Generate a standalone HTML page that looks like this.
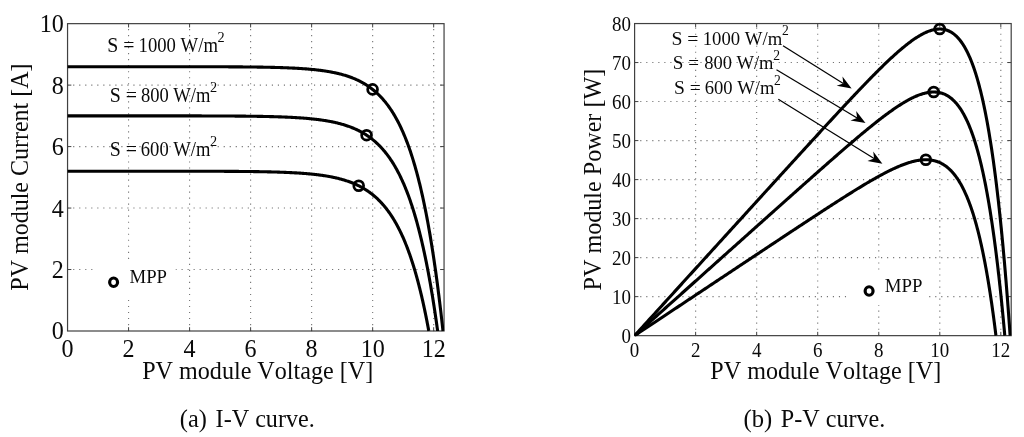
<!DOCTYPE html>
<html lang="en"><head><meta charset="utf-8"><title>PV module I-V and P-V curves</title>
<style>html,body{margin:0;padding:0;background:#fff;overflow:hidden}svg{display:block;will-change:transform}text{font-family:"Liberation Serif","Times New Roman",Times,serif;fill:#0a0a0a;font-kerning:none}</style></head><body>
<svg width="1024" height="437" viewBox="0 0 1024 437">
<rect width="1024" height="437" fill="#fff"/>
<defs><clipPath id="cl"><rect x="67.25" y="23.35" width="377.10" height="308.15"/></clipPath><clipPath id="cr"><rect x="634.30" y="23.25" width="377.20" height="312.90"/></clipPath></defs>
<path d="M128.57,331.15 V23.65 M189.59,331.15 V23.65 M250.61,331.15 V23.65 M311.63,331.15 V23.65 M372.66,331.15 V23.65 M433.68,331.15 V23.65 M67.15,269.53 H444.05 M67.15,208.06 H444.05 M67.15,146.59 H444.05 M67.15,85.12 H444.05" stroke="#747474" stroke-width="1.1" stroke-dasharray="1.15 4.87" fill="none"/>
<rect x="94.0" y="260.0" width="81.5" height="38.0" fill="#fff"/>
<path d="M128.57,331.00 v-3.8 M128.57,23.65 v3.8 M189.59,331.00 v-3.8 M189.59,23.65 v3.8 M250.61,331.00 v-3.8 M250.61,23.65 v3.8 M311.63,331.00 v-3.8 M311.63,23.65 v3.8 M372.66,331.00 v-3.8 M372.66,23.65 v3.8 M433.68,331.00 v-3.8 M433.68,23.65 v3.8 M67.55,269.53 h3.8 M444.05,269.53 h-3.8 M67.55,208.06 h3.8 M444.05,208.06 h-3.8 M67.55,146.59 h3.8 M444.05,146.59 h-3.8 M67.55,85.12 h3.8 M444.05,85.12 h-3.8" stroke="#404040" stroke-width="1" fill="none"/>
<rect x="67.55" y="23.65" width="376.50" height="307.35" fill="none" stroke="#404040" stroke-width="1.2"/>
<path clip-path="url(#cl)" d="M67.55,66.68 L68.75,66.68 L69.95,66.68 L71.15,66.68 L72.34,66.68 L73.54,66.68 L74.73,66.68 L75.92,66.68 L77.11,66.68 L78.30,66.68 L79.49,66.68 L80.68,66.68 L81.86,66.68 L83.05,66.68 L84.23,66.68 L85.41,66.68 L86.59,66.68 L87.76,66.68 L88.94,66.68 L90.11,66.68 L91.29,66.68 L92.46,66.68 L93.63,66.68 L94.80,66.68 L95.97,66.68 L97.13,66.68 L98.30,66.68 L99.46,66.68 L100.62,66.68 L101.78,66.68 L102.94,66.68 L104.09,66.68 L105.25,66.68 L106.40,66.68 L107.56,66.68 L108.71,66.68 L109.86,66.68 L111.00,66.68 L112.15,66.68 L113.30,66.68 L114.44,66.68 L115.58,66.68 L116.72,66.68 L117.86,66.68 L119.00,66.68 L120.13,66.68 L121.27,66.68 L122.40,66.68 L123.53,66.68 L124.66,66.68 L125.79,66.68 L126.92,66.68 L128.04,66.68 L129.17,66.68 L130.29,66.68 L131.41,66.68 L132.53,66.68 L133.65,66.68 L134.77,66.68 L135.88,66.68 L136.99,66.68 L138.11,66.68 L139.22,66.69 L140.33,66.69 L141.43,66.69 L142.54,66.69 L143.64,66.69 L144.75,66.69 L145.85,66.69 L146.95,66.69 L148.05,66.69 L149.14,66.69 L150.24,66.69 L151.33,66.69 L152.42,66.69 L153.51,66.69 L154.60,66.69 L155.69,66.69 L156.78,66.69 L157.86,66.69 L158.94,66.69 L160.02,66.69 L161.10,66.69 L162.18,66.69 L163.26,66.69 L164.33,66.69 L165.41,66.70 L166.48,66.70 L167.55,66.70 L168.62,66.70 L169.69,66.70 L170.75,66.70 L171.82,66.70 L172.88,66.70 L173.94,66.70 L175.00,66.70 L176.06,66.70 L177.11,66.70 L178.17,66.70 L179.22,66.71 L180.27,66.71 L181.32,66.71 L182.37,66.71 L183.42,66.71 L184.46,66.71 L185.51,66.71 L186.55,66.71 L187.59,66.71 L188.63,66.72 L189.67,66.72 L190.70,66.72 L191.74,66.72 L192.77,66.72 L193.80,66.72 L194.83,66.72 L195.86,66.73 L196.88,66.73 L197.91,66.73 L198.93,66.73 L199.95,66.73 L200.97,66.74 L201.99,66.74 L203.01,66.74 L204.02,66.74 L205.04,66.74 L206.05,66.75 L207.06,66.75 L208.07,66.75 L209.07,66.75 L210.08,66.76 L211.08,66.76 L212.08,66.76 L213.08,66.77 L214.08,66.77 L215.08,66.77 L216.08,66.78 L217.07,66.78 L218.06,66.78 L219.05,66.79 L220.04,66.79 L221.03,66.79 L222.01,66.80 L223.00,66.80 L223.98,66.81 L224.96,66.81 L225.94,66.82 L226.92,66.82 L227.89,66.82 L228.87,66.83 L229.84,66.83 L230.81,66.84 L231.78,66.85 L232.75,66.85 L233.71,66.86 L234.68,66.86 L235.64,66.87 L236.60,66.88 L237.56,66.88 L238.52,66.89 L239.47,66.90 L240.43,66.90 L241.38,66.91 L242.33,66.92 L243.28,66.93 L244.23,66.94 L245.17,66.95 L246.11,66.95 L247.06,66.96 L248.00,66.97 L248.94,66.98 L249.87,66.99 L250.81,67.00 L251.74,67.01 L252.67,67.03 L253.60,67.04 L254.53,67.05 L255.46,67.06 L256.39,67.07 L257.31,67.09 L258.23,67.10 L259.15,67.11 L260.07,67.13 L260.99,67.14 L261.90,67.16 L262.81,67.17 L263.73,67.19 L264.63,67.21 L265.54,67.22 L266.45,67.24 L267.35,67.26 L268.26,67.28 L269.16,67.29 L270.06,67.31 L270.95,67.33 L271.85,67.36 L272.74,67.38 L273.64,67.40 L274.53,67.42 L275.41,67.45 L276.30,67.47 L277.19,67.49 L278.07,67.52 L278.95,67.55 L279.83,67.57 L280.71,67.60 L281.59,67.63 L282.46,67.66 L283.33,67.69 L284.20,67.72 L285.07,67.75 L285.94,67.79 L286.81,67.82 L287.67,67.85 L288.53,67.89 L289.39,67.93 L290.25,67.96 L291.11,68.00 L291.96,68.04 L292.81,68.09 L293.67,68.13 L294.51,68.17 L295.36,68.22 L296.21,68.26 L297.05,68.31 L297.89,68.36 L298.73,68.41 L299.57,68.46 L300.41,68.51 L301.24,68.57 L302.08,68.62 L302.91,68.68 L303.74,68.74 L304.56,68.80 L305.39,68.86 L306.21,68.92 L307.03,68.99 L307.85,69.05 L308.67,69.12 L309.49,69.19 L310.30,69.27 L311.11,69.34 L311.93,69.42 L312.73,69.50 L313.54,69.58 L314.35,69.66 L315.15,69.74 L315.95,69.83 L316.75,69.92 L317.55,70.01 L318.34,70.10 L319.14,70.20 L319.93,70.30 L320.72,70.40 L321.50,70.50 L322.29,70.61 L323.07,70.72 L323.86,70.83 L324.64,70.94 L325.42,71.06 L326.19,71.18 L326.97,71.31 L327.74,71.43 L328.51,71.56 L329.28,71.69 L330.04,71.83 L330.81,71.97 L331.57,72.11 L332.33,72.26 L333.09,72.41 L333.85,72.56 L334.60,72.72 L335.36,72.88 L336.11,73.04 L336.86,73.21 L337.60,73.38 L338.35,73.56 L339.09,73.74 L339.83,73.93 L340.57,74.11 L341.31,74.31 L342.04,74.51 L342.78,74.71 L343.51,74.92 L344.24,75.13 L344.96,75.35 L345.69,75.57 L346.41,75.79 L347.13,76.03 L347.85,76.26 L348.57,76.51 L349.28,76.75 L350.00,77.01 L350.71,77.27 L351.42,77.53 L352.12,77.80 L352.83,78.08 L353.53,78.36 L354.23,78.65 L354.93,78.95 L355.63,79.25 L356.32,79.56 L357.01,79.87 L357.70,80.19 L358.39,80.52 L359.08,80.86 L359.76,81.20 L360.44,81.55 L361.12,81.90 L361.80,82.27 L362.48,82.64 L363.15,83.02 L363.82,83.40 L364.49,83.80 L365.16,84.20 L365.82,84.61 L366.48,85.03 L367.14,85.46 L367.80,85.90 L368.46,86.34 L369.11,86.79 L369.76,87.26 L370.41,87.73 L371.06,88.21 L371.71,88.70 L372.35,89.20 L372.99,89.71 L373.63,90.23 L374.27,90.75 L374.90,91.29 L375.53,91.84 L376.16,92.40 L376.79,92.97 L377.42,93.55 L378.04,94.14 L378.66,94.74 L379.28,95.35 L379.90,95.98 L380.51,96.61 L381.12,97.26 L381.73,97.91 L382.34,98.58 L382.95,99.26 L383.55,99.96 L384.15,100.66 L384.75,101.38 L385.34,102.10 L385.94,102.85 L386.53,103.60 L387.12,104.37 L387.71,105.15 L388.29,105.94 L388.87,106.74 L389.45,107.56 L390.03,108.39 L390.60,109.24 L391.18,110.10 L391.75,110.97 L392.32,111.85 L392.88,112.75 L393.45,113.67 L394.01,114.60 L394.56,115.54 L395.12,116.50 L395.67,117.47 L396.23,118.45 L396.77,119.45 L397.32,120.47 L397.86,121.50 L398.41,122.54 L398.95,123.60 L399.48,124.68 L400.02,125.77 L400.55,126.87 L401.08,127.99 L401.60,129.13 L402.13,130.28 L402.65,131.45 L403.17,132.63 L403.69,133.83 L404.20,135.05 L404.71,136.28 L405.22,137.52 L405.73,138.79 L406.23,140.06 L406.73,141.36 L407.23,142.67 L407.73,143.99 L408.22,145.34 L408.71,146.69 L409.20,148.07 L409.68,149.46 L410.17,150.86 L410.65,152.29 L411.13,153.72 L411.60,155.18 L412.07,156.65 L412.54,158.13 L413.01,159.63 L413.47,161.15 L413.94,162.68 L414.39,164.23 L414.85,165.79 L415.30,167.37 L415.75,168.97 L416.20,170.58 L416.65,172.20 L417.09,173.84 L417.53,175.49 L417.96,177.16 L418.40,178.85 L418.83,180.54 L419.26,182.26 L419.68,183.98 L420.10,185.72 L420.52,187.47 L420.94,189.24 L421.35,191.02 L421.76,192.81 L422.17,194.62 L422.58,196.44 L422.98,198.26 L423.38,200.11 L423.77,201.96 L424.16,203.82 L424.55,205.70 L424.94,207.58 L425.32,209.48 L425.70,211.39 L426.08,213.30 L426.46,215.23 L426.83,217.16 L427.19,219.10 L427.56,221.05 L427.92,223.01 L428.28,224.97 L428.63,226.94 L428.98,228.92 L429.33,230.90 L429.68,232.89 L430.02,234.88 L430.36,236.88 L430.69,238.88 L431.02,240.88 L431.35,242.88 L431.68,244.89 L432.00,246.90 L432.32,248.91 L432.63,250.91 L432.94,252.92 L433.25,254.93 L433.55,256.93 L433.85,258.93 L434.15,260.93 L434.44,262.92 L434.73,264.91 L435.01,266.89 L435.30,268.86 L435.57,270.83 L435.85,272.79 L436.12,274.73 L436.38,276.67 L436.65,278.60 L436.90,280.51 L437.16,282.42 L437.41,284.30 L437.65,286.18 L437.89,288.03 L438.13,289.87 L438.36,291.69 L438.59,293.49 L438.82,295.27 L439.04,297.03 L439.25,298.77 L439.46,300.48 L439.67,302.17 L439.87,303.83 L440.07,305.46 L440.26,307.06 L440.45,308.64 L440.63,310.17 L440.81,311.68 L440.98,313.15 L441.14,314.58 L441.30,315.98 L441.46,317.33 L441.61,318.64 L441.75,319.90 L441.89,321.12 L442.02,322.29 L442.15,323.40 L442.26,324.46 L442.38,325.47 L442.48,326.41 L442.58,327.29 L442.67,328.09 L442.75,328.83 L442.82,329.48 L442.88,330.04 L442.93,330.50 L442.96,330.83 L442.98,331.00" fill="none" stroke="#000" stroke-width="3.1" stroke-linejoin="round"/>
<path clip-path="url(#cl)" d="M67.55,115.85 L68.73,115.86 L69.92,115.86 L71.10,115.86 L72.28,115.86 L73.45,115.86 L74.63,115.86 L75.81,115.86 L76.98,115.86 L78.15,115.86 L79.32,115.86 L80.49,115.86 L81.66,115.86 L82.83,115.86 L83.99,115.86 L85.15,115.86 L86.32,115.86 L87.48,115.86 L88.64,115.86 L89.79,115.86 L90.95,115.86 L92.11,115.86 L93.26,115.86 L94.41,115.86 L95.56,115.86 L96.71,115.86 L97.86,115.86 L99.00,115.86 L100.15,115.86 L101.29,115.86 L102.43,115.86 L103.57,115.86 L104.71,115.86 L105.85,115.86 L106.99,115.86 L108.12,115.86 L109.25,115.86 L110.39,115.86 L111.52,115.86 L112.65,115.86 L113.77,115.86 L114.90,115.86 L116.02,115.86 L117.15,115.86 L118.27,115.86 L119.39,115.86 L120.51,115.86 L121.62,115.86 L122.74,115.86 L123.85,115.86 L124.96,115.86 L126.07,115.86 L127.18,115.86 L128.29,115.86 L129.40,115.86 L130.50,115.86 L131.61,115.86 L132.71,115.86 L133.81,115.86 L134.91,115.86 L136.01,115.86 L137.10,115.86 L138.20,115.86 L139.29,115.86 L140.38,115.86 L141.47,115.86 L142.56,115.86 L143.65,115.86 L144.73,115.86 L145.82,115.87 L146.90,115.87 L147.98,115.87 L149.06,115.87 L150.14,115.87 L151.22,115.87 L152.29,115.87 L153.36,115.87 L154.44,115.87 L155.51,115.87 L156.58,115.87 L157.64,115.87 L158.71,115.87 L159.77,115.87 L160.84,115.87 L161.90,115.87 L162.96,115.87 L164.02,115.87 L165.07,115.87 L166.13,115.88 L167.18,115.88 L168.23,115.88 L169.28,115.88 L170.33,115.88 L171.38,115.88 L172.43,115.88 L173.47,115.88 L174.51,115.88 L175.56,115.88 L176.59,115.88 L177.63,115.89 L178.67,115.89 L179.70,115.89 L180.74,115.89 L181.77,115.89 L182.80,115.89 L183.83,115.89 L184.86,115.89 L185.88,115.90 L186.91,115.90 L187.93,115.90 L188.95,115.90 L189.97,115.90 L190.99,115.90 L192.00,115.91 L193.02,115.91 L194.03,115.91 L195.04,115.91 L196.05,115.91 L197.06,115.92 L198.07,115.92 L199.07,115.92 L200.08,115.92 L201.08,115.92 L202.08,115.93 L203.08,115.93 L204.08,115.93 L205.07,115.93 L206.07,115.94 L207.06,115.94 L208.05,115.94 L209.04,115.95 L210.03,115.95 L211.01,115.95 L212.00,115.96 L212.98,115.96 L213.96,115.96 L214.94,115.97 L215.92,115.97 L216.90,115.97 L217.87,115.98 L218.85,115.98 L219.82,115.99 L220.79,115.99 L221.76,116.00 L222.72,116.00 L223.69,116.01 L224.65,116.01 L225.61,116.02 L226.57,116.02 L227.53,116.03 L228.49,116.03 L229.44,116.04 L230.40,116.04 L231.35,116.05 L232.30,116.06 L233.25,116.06 L234.20,116.07 L235.14,116.08 L236.08,116.08 L237.03,116.09 L237.97,116.10 L238.91,116.11 L239.84,116.12 L240.78,116.12 L241.71,116.13 L242.64,116.14 L243.58,116.15 L244.50,116.16 L245.43,116.17 L246.36,116.18 L247.28,116.19 L248.20,116.20 L249.12,116.21 L250.04,116.22 L250.96,116.24 L251.87,116.25 L252.79,116.26 L253.70,116.27 L254.61,116.29 L255.52,116.30 L256.43,116.31 L257.33,116.33 L258.23,116.34 L259.14,116.36 L260.04,116.37 L260.94,116.39 L261.83,116.41 L262.73,116.42 L263.62,116.44 L264.51,116.46 L265.40,116.48 L266.29,116.50 L267.18,116.52 L268.06,116.54 L268.94,116.56 L269.82,116.58 L270.70,116.60 L271.58,116.62 L272.46,116.65 L273.33,116.67 L274.20,116.69 L275.08,116.72 L275.94,116.75 L276.81,116.77 L277.68,116.80 L278.54,116.83 L279.40,116.86 L280.26,116.89 L281.12,116.92 L281.98,116.95 L282.83,116.98 L283.69,117.01 L284.54,117.05 L285.39,117.08 L286.24,117.12 L287.08,117.15 L287.93,117.19 L288.77,117.23 L289.61,117.27 L290.45,117.31 L291.29,117.35 L292.12,117.40 L292.96,117.44 L293.79,117.49 L294.62,117.53 L295.45,117.58 L296.27,117.63 L297.10,117.68 L297.92,117.73 L298.74,117.79 L299.56,117.84 L300.38,117.90 L301.19,117.95 L302.01,118.01 L302.82,118.07 L303.63,118.13 L304.44,118.20 L305.24,118.26 L306.05,118.33 L306.85,118.40 L307.65,118.47 L308.45,118.54 L309.25,118.61 L310.04,118.69 L310.84,118.77 L311.63,118.85 L312.42,118.93 L313.21,119.01 L313.99,119.10 L314.78,119.18 L315.56,119.27 L316.34,119.36 L317.12,119.46 L317.89,119.55 L318.67,119.65 L319.44,119.75 L320.21,119.86 L320.98,119.96 L321.75,120.07 L322.51,120.18 L323.28,120.30 L324.04,120.41 L324.80,120.53 L325.56,120.65 L326.31,120.78 L327.07,120.90 L327.82,121.04 L328.57,121.17 L329.32,121.31 L330.06,121.45 L330.81,121.59 L331.55,121.73 L332.29,121.88 L333.03,122.04 L333.76,122.19 L334.50,122.35 L335.23,122.52 L335.96,122.68 L336.69,122.86 L337.42,123.03 L338.14,123.21 L338.86,123.39 L339.58,123.58 L340.30,123.77 L341.02,123.96 L341.73,124.16 L342.45,124.37 L343.16,124.57 L343.87,124.79 L344.57,125.00 L345.28,125.22 L345.98,125.45 L346.68,125.68 L347.38,125.92 L348.08,126.16 L348.77,126.40 L349.46,126.65 L350.15,126.91 L350.84,127.17 L351.53,127.44 L352.21,127.71 L352.90,127.99 L353.58,128.27 L354.25,128.56 L354.93,128.85 L355.60,129.16 L356.28,129.46 L356.95,129.77 L357.62,130.09 L358.28,130.42 L358.94,130.75 L359.61,131.09 L360.27,131.43 L360.92,131.79 L361.58,132.14 L362.23,132.51 L362.88,132.88 L363.53,133.26 L364.18,133.65 L364.82,134.04 L365.47,134.44 L366.11,134.85 L366.75,135.26 L367.38,135.69 L368.02,136.12 L368.65,136.56 L369.28,137.01 L369.90,137.46 L370.53,137.92 L371.15,138.40 L371.77,138.88 L372.39,139.36 L373.01,139.86 L373.62,140.37 L374.24,140.88 L374.85,141.41 L375.45,141.94 L376.06,142.48 L376.66,143.03 L377.26,143.59 L377.86,144.16 L378.46,144.74 L379.05,145.33 L379.65,145.93 L380.24,146.53 L380.82,147.15 L381.41,147.78 L381.99,148.42 L382.57,149.06 L383.15,149.72 L383.73,150.39 L384.30,151.07 L384.87,151.76 L385.44,152.46 L386.01,153.17 L386.57,153.89 L387.14,154.63 L387.70,155.37 L388.25,156.13 L388.81,156.89 L389.36,157.67 L389.91,158.46 L390.46,159.26 L391.01,160.07 L391.55,160.89 L392.09,161.72 L392.63,162.57 L393.17,163.43 L393.70,164.30 L394.23,165.18 L394.76,166.07 L395.29,166.98 L395.81,167.90 L396.33,168.82 L396.85,169.77 L397.37,170.72 L397.88,171.69 L398.40,172.66 L398.91,173.65 L399.41,174.66 L399.92,175.67 L400.42,176.70 L400.92,177.74 L401.41,178.79 L401.91,179.85 L402.40,180.93 L402.89,182.02 L403.38,183.12 L403.86,184.23 L404.34,185.36 L404.82,186.50 L405.30,187.65 L405.77,188.81 L406.24,189.99 L406.71,191.17 L407.17,192.37 L407.64,193.58 L408.10,194.81 L408.55,196.04 L409.01,197.29 L409.46,198.55 L409.91,199.82 L410.36,201.10 L410.80,202.40 L411.24,203.70 L411.68,205.02 L412.12,206.35 L412.55,207.69 L412.98,209.04 L413.41,210.40 L413.83,211.77 L414.26,213.15 L414.67,214.55 L415.09,215.95 L415.50,217.36 L415.91,218.79 L416.32,220.22 L416.73,221.66 L417.13,223.12 L417.53,224.58 L417.92,226.05 L418.32,227.53 L418.71,229.01 L419.09,230.51 L419.48,232.01 L419.86,233.52 L420.24,235.04 L420.61,236.57 L420.98,238.10 L421.35,239.64 L421.72,241.18 L422.08,242.73 L422.44,244.29 L422.79,245.85 L423.15,247.42 L423.50,248.99 L423.84,250.56 L424.19,252.14 L424.53,253.73 L424.86,255.31 L425.20,256.90 L425.53,258.49 L425.85,260.08 L426.18,261.67 L426.50,263.26 L426.82,264.85 L427.13,266.45 L427.44,268.04 L427.74,269.63 L428.05,271.21 L428.35,272.80 L428.64,274.38 L428.93,275.96 L429.22,277.54 L429.51,279.11 L429.79,280.67 L430.07,282.23 L430.34,283.78 L430.61,285.33 L430.88,286.86 L431.14,288.39 L431.40,289.91 L431.65,291.42 L431.90,292.91 L432.15,294.40 L432.39,295.87 L432.63,297.33 L432.86,298.78 L433.09,300.21 L433.32,301.63 L433.54,303.03 L433.75,304.41 L433.97,305.77 L434.17,307.11 L434.38,308.44 L434.58,309.74 L434.77,311.02 L434.96,312.28 L435.14,313.51 L435.32,314.71 L435.50,315.89 L435.67,317.04 L435.83,318.16 L435.99,319.26 L436.14,320.31 L436.29,321.34 L436.43,322.33 L436.57,323.28 L436.70,324.19 L436.82,325.06 L436.93,325.89 L437.04,326.68 L437.15,327.41 L437.24,328.10 L437.33,328.73 L437.41,329.30 L437.48,329.81 L437.54,330.25 L437.59,330.61 L437.63,330.87 L437.64,331.00" fill="none" stroke="#000" stroke-width="3.1" stroke-linejoin="round"/>
<path clip-path="url(#cl)" d="M67.55,171.18 L68.71,171.18 L69.86,171.18 L71.01,171.18 L72.16,171.18 L73.31,171.18 L74.46,171.18 L75.61,171.18 L76.75,171.18 L77.90,171.18 L79.04,171.18 L80.18,171.18 L81.32,171.18 L82.46,171.18 L83.60,171.18 L84.73,171.18 L85.87,171.18 L87.00,171.18 L88.13,171.18 L89.26,171.18 L90.39,171.18 L91.52,171.18 L92.64,171.18 L93.77,171.18 L94.89,171.18 L96.01,171.18 L97.13,171.18 L98.25,171.18 L99.37,171.18 L100.49,171.18 L101.60,171.18 L102.71,171.18 L103.83,171.18 L104.94,171.18 L106.04,171.18 L107.15,171.18 L108.26,171.18 L109.36,171.18 L110.47,171.18 L111.57,171.18 L112.67,171.18 L113.77,171.18 L114.86,171.18 L115.96,171.18 L117.05,171.18 L118.15,171.18 L119.24,171.18 L120.33,171.18 L121.42,171.18 L122.51,171.18 L123.59,171.18 L124.68,171.18 L125.76,171.18 L126.84,171.18 L127.92,171.18 L129.00,171.18 L130.08,171.18 L131.15,171.18 L132.23,171.18 L133.30,171.18 L134.37,171.18 L135.44,171.18 L136.51,171.18 L137.58,171.18 L138.64,171.19 L139.71,171.19 L140.77,171.19 L141.83,171.19 L142.89,171.19 L143.95,171.19 L145.00,171.19 L146.06,171.19 L147.11,171.19 L148.16,171.19 L149.22,171.19 L150.26,171.19 L151.31,171.19 L152.36,171.19 L153.40,171.19 L154.45,171.19 L155.49,171.19 L156.53,171.19 L157.57,171.19 L158.61,171.19 L159.64,171.19 L160.68,171.19 L161.71,171.19 L162.74,171.20 L163.77,171.20 L164.80,171.20 L165.83,171.20 L166.85,171.20 L167.88,171.20 L168.90,171.20 L169.92,171.20 L170.94,171.20 L171.96,171.20 L172.97,171.20 L173.99,171.20 L175.00,171.20 L176.01,171.21 L177.02,171.21 L178.03,171.21 L179.04,171.21 L180.05,171.21 L181.05,171.21 L182.05,171.21 L183.05,171.21 L184.05,171.21 L185.05,171.22 L186.05,171.22 L187.04,171.22 L188.04,171.22 L189.03,171.22 L190.02,171.22 L191.01,171.22 L192.00,171.23 L192.98,171.23 L193.97,171.23 L194.95,171.23 L195.93,171.23 L196.91,171.24 L197.89,171.24 L198.86,171.24 L199.84,171.24 L200.81,171.24 L201.79,171.25 L202.76,171.25 L203.72,171.25 L204.69,171.25 L205.66,171.26 L206.62,171.26 L207.58,171.26 L208.55,171.26 L209.50,171.27 L210.46,171.27 L211.42,171.27 L212.37,171.28 L213.33,171.28 L214.28,171.28 L215.23,171.29 L216.18,171.29 L217.12,171.29 L218.07,171.30 L219.01,171.30 L219.95,171.31 L220.89,171.31 L221.83,171.31 L222.77,171.32 L223.71,171.32 L224.64,171.33 L225.57,171.33 L226.50,171.34 L227.43,171.34 L228.36,171.35 L229.29,171.35 L230.21,171.36 L231.13,171.36 L232.06,171.37 L232.97,171.38 L233.89,171.38 L234.81,171.39 L235.72,171.40 L236.64,171.40 L237.55,171.41 L238.46,171.42 L239.37,171.43 L240.27,171.43 L241.18,171.44 L242.08,171.45 L242.98,171.46 L243.88,171.47 L244.78,171.48 L245.68,171.49 L246.57,171.49 L247.47,171.50 L248.36,171.51 L249.25,171.53 L250.14,171.54 L251.03,171.55 L251.91,171.56 L252.79,171.57 L253.68,171.58 L254.56,171.59 L255.43,171.61 L256.31,171.62 L257.19,171.63 L258.06,171.65 L258.93,171.66 L259.80,171.68 L260.67,171.69 L261.54,171.71 L262.40,171.72 L263.27,171.74 L264.13,171.76 L264.99,171.77 L265.85,171.79 L266.70,171.81 L267.56,171.83 L268.41,171.85 L269.26,171.87 L270.11,171.89 L270.96,171.91 L271.81,171.93 L272.65,171.95 L273.50,171.97 L274.34,172.00 L275.18,172.02 L276.02,172.04 L276.85,172.07 L277.69,172.10 L278.52,172.12 L279.35,172.15 L280.18,172.18 L281.01,172.21 L281.83,172.24 L282.66,172.27 L283.48,172.30 L284.30,172.33 L285.12,172.36 L285.94,172.39 L286.75,172.43 L287.57,172.46 L288.38,172.50 L289.19,172.54 L290.00,172.58 L290.80,172.61 L291.61,172.65 L292.41,172.70 L293.21,172.74 L294.01,172.78 L294.81,172.83 L295.61,172.87 L296.40,172.92 L297.19,172.97 L297.98,173.01 L298.77,173.06 L299.56,173.12 L300.35,173.17 L301.13,173.22 L301.91,173.28 L302.69,173.33 L303.47,173.39 L304.25,173.45 L305.02,173.51 L305.79,173.58 L306.56,173.64 L307.33,173.70 L308.10,173.77 L308.86,173.84 L309.63,173.91 L310.39,173.98 L311.15,174.06 L311.91,174.13 L312.66,174.21 L313.42,174.29 L314.17,174.37 L314.92,174.45 L315.67,174.54 L316.42,174.62 L317.16,174.71 L317.91,174.80 L318.65,174.90 L319.39,174.99 L320.12,175.09 L320.86,175.19 L321.59,175.29 L322.33,175.39 L323.06,175.50 L323.79,175.61 L324.51,175.72 L325.24,175.83 L325.96,175.95 L326.68,176.07 L327.40,176.19 L328.12,176.32 L328.83,176.44 L329.54,176.57 L330.25,176.71 L330.96,176.84 L331.67,176.98 L332.38,177.12 L333.08,177.26 L333.78,177.41 L334.48,177.56 L335.18,177.72 L335.87,177.87 L336.57,178.03 L337.26,178.20 L337.95,178.37 L338.64,178.54 L339.32,178.71 L340.01,178.89 L340.69,179.07 L341.37,179.26 L342.05,179.45 L342.72,179.64 L343.40,179.84 L344.07,180.04 L344.74,180.24 L345.41,180.45 L346.07,180.66 L346.74,180.88 L347.40,181.10 L348.06,181.33 L348.72,181.56 L349.37,181.80 L350.03,182.04 L350.68,182.28 L351.33,182.53 L351.98,182.78 L352.62,183.04 L353.27,183.30 L353.91,183.57 L354.55,183.85 L355.19,184.13 L355.82,184.41 L356.46,184.70 L357.09,184.99 L357.72,185.29 L358.34,185.60 L358.97,185.91 L359.59,186.23 L360.21,186.55 L360.83,186.88 L361.45,187.21 L362.06,187.55 L362.68,187.90 L363.29,188.25 L363.89,188.61 L364.50,188.97 L365.11,189.34 L365.71,189.72 L366.31,190.11 L366.90,190.50 L367.50,190.89 L368.09,191.30 L368.68,191.71 L369.27,192.12 L369.86,192.55 L370.44,192.98 L371.03,193.42 L371.61,193.86 L372.19,194.31 L372.76,194.77 L373.33,195.24 L373.91,195.71 L374.48,196.19 L375.04,196.68 L375.61,197.18 L376.17,197.68 L376.73,198.20 L377.29,198.71 L377.84,199.24 L378.40,199.78 L378.95,200.32 L379.50,200.87 L380.04,201.43 L380.59,202.00 L381.13,202.57 L381.67,203.16 L382.21,203.75 L382.74,204.35 L383.27,204.96 L383.81,205.58 L384.33,206.20 L384.86,206.84 L385.38,207.48 L385.90,208.13 L386.42,208.79 L386.94,209.46 L387.45,210.14 L387.96,210.83 L388.47,211.52 L388.98,212.23 L389.48,212.94 L389.99,213.66 L390.49,214.39 L390.98,215.13 L391.48,215.88 L391.97,216.64 L392.46,217.40 L392.95,218.18 L393.43,218.96 L393.91,219.76 L394.39,220.56 L394.87,221.37 L395.35,222.19 L395.82,223.02 L396.29,223.86 L396.76,224.71 L397.22,225.56 L397.68,226.43 L398.14,227.30 L398.60,228.18 L399.05,229.08 L399.51,229.98 L399.96,230.88 L400.40,231.80 L400.85,232.73 L401.29,233.66 L401.73,234.61 L402.16,235.56 L402.60,236.52 L403.03,237.49 L403.45,238.46 L403.88,239.45 L404.30,240.44 L404.72,241.44 L405.14,242.45 L405.55,243.46 L405.97,244.49 L406.38,245.52 L406.78,246.56 L407.19,247.60 L407.59,248.65 L407.98,249.71 L408.38,250.78 L408.77,251.85 L409.16,252.93 L409.55,254.02 L409.93,255.11 L410.31,256.21 L410.69,257.31 L411.06,258.42 L411.43,259.53 L411.80,260.65 L412.17,261.78 L412.53,262.91 L412.89,264.04 L413.25,265.18 L413.60,266.32 L413.95,267.47 L414.30,268.62 L414.65,269.77 L414.99,270.93 L415.33,272.09 L415.66,273.25 L415.99,274.41 L416.32,275.58 L416.65,276.74 L416.97,277.91 L417.29,279.08 L417.60,280.25 L417.92,281.42 L418.23,282.59 L418.53,283.76 L418.83,284.93 L419.13,286.09 L419.43,287.26 L419.72,288.42 L420.01,289.58 L420.29,290.74 L420.58,291.90 L420.85,293.05 L421.13,294.19 L421.40,295.34 L421.67,296.47 L421.93,297.61 L422.19,298.73 L422.45,299.85 L422.70,300.96 L422.95,302.07 L423.19,303.16 L423.43,304.25 L423.67,305.33 L423.90,306.40 L424.13,307.46 L424.35,308.51 L424.57,309.54 L424.79,310.56 L425.00,311.57 L425.21,312.57 L425.41,313.55 L425.61,314.52 L425.80,315.47 L425.99,316.41 L426.18,317.33 L426.36,318.23 L426.53,319.11 L426.70,319.97 L426.87,320.81 L427.03,321.63 L427.18,322.43 L427.33,323.20 L427.47,323.95 L427.61,324.67 L427.74,325.36 L427.87,326.03 L427.99,326.67 L428.10,327.27 L428.21,327.85 L428.31,328.38 L428.40,328.88 L428.49,329.34 L428.57,329.76 L428.64,330.13 L428.69,330.45 L428.74,330.71 L428.78,330.91 L428.79,331.00" fill="none" stroke="#000" stroke-width="3.1" stroke-linejoin="round"/>
<circle cx="372.59" cy="89.39" r="4.9" fill="none" stroke="#000" stroke-width="2.75"/>
<circle cx="366.58" cy="135.16" r="4.9" fill="none" stroke="#000" stroke-width="2.75"/>
<circle cx="358.71" cy="185.78" r="4.9" fill="none" stroke="#000" stroke-width="2.75"/>
<text transform="translate(67.55,356.7) scale(0.975,1)" font-size="24.7" text-anchor="middle">0</text>
<text transform="translate(128.57,356.7) scale(0.975,1)" font-size="24.7" text-anchor="middle">2</text>
<text transform="translate(189.59,356.7) scale(0.975,1)" font-size="24.7" text-anchor="middle">4</text>
<text transform="translate(250.61,356.7) scale(0.975,1)" font-size="24.7" text-anchor="middle">6</text>
<text transform="translate(311.63,356.7) scale(0.975,1)" font-size="24.7" text-anchor="middle">8</text>
<text transform="translate(372.66,356.7) scale(0.975,1)" font-size="24.7" text-anchor="middle">10</text>
<text transform="translate(433.68,356.7) scale(0.975,1)" font-size="24.7" text-anchor="middle">12</text>
<text transform="translate(63.9,339.45) scale(0.975,1)" font-size="24.7" text-anchor="end">0</text>
<text transform="translate(63.9,277.98) scale(0.975,1)" font-size="24.7" text-anchor="end">2</text>
<text transform="translate(63.9,216.51) scale(0.975,1)" font-size="24.7" text-anchor="end">4</text>
<text transform="translate(63.9,155.04) scale(0.975,1)" font-size="24.7" text-anchor="end">6</text>
<text transform="translate(63.9,93.57) scale(0.975,1)" font-size="24.7" text-anchor="end">8</text>
<text transform="translate(63.9,32.10) scale(0.975,1)" font-size="24.7" text-anchor="end">10</text>
<text x="142.20" y="378.60" font-size="24.30" textLength="231.00" lengthAdjust="spacingAndGlyphs">PV module Voltage [V]</text>
<text transform="translate(28.00,290.70) rotate(-90)" font-size="24.40" textLength="227.31" lengthAdjust="spacingAndGlyphs">PV module Current [A]</text>
<text x="179.83" y="426.60" font-size="24.40" textLength="27.04" lengthAdjust="spacingAndGlyphs">(a)</text>
<text x="215.62" y="426.60" font-size="24.40" textLength="99.14" lengthAdjust="spacingAndGlyphs">I-V curve.</text>
<text x="107.34" y="51.90" font-size="20.30" textLength="27.15" lengthAdjust="spacingAndGlyphs">S =</text>
<text x="138.62" y="51.90" font-size="20.30" textLength="79.30" lengthAdjust="spacingAndGlyphs">1000 W/m</text>
<text x="217.57" y="42.10" font-size="14.3">2</text>
<text x="109.64" y="101.60" font-size="20.30" textLength="27.25" lengthAdjust="spacingAndGlyphs">S =</text>
<text x="140.93" y="101.60" font-size="20.30" textLength="69.49" lengthAdjust="spacingAndGlyphs">800 W/m</text>
<text x="210.07" y="91.80" font-size="14.3">2</text>
<text x="109.64" y="155.60" font-size="20.30" textLength="27.25" lengthAdjust="spacingAndGlyphs">S =</text>
<text x="140.83" y="155.60" font-size="20.30" textLength="69.59" lengthAdjust="spacingAndGlyphs">600 W/m</text>
<text x="210.07" y="145.80" font-size="14.3">2</text>
<ellipse cx="113.60" cy="282.25" rx="3.95" ry="4.25" fill="none" stroke="#000" stroke-width="3.2"/>
<text x="129.54" y="283.10" font-size="19.30" textLength="37.48" lengthAdjust="spacingAndGlyphs">MPP</text>
<path d="M695.64,335.80 V23.55 M756.67,335.80 V23.55 M817.71,335.80 V23.55 M878.75,335.80 V23.55 M939.79,335.80 V23.55 M1000.82,335.80 V23.55 M634.20,296.64 H1011.20 M634.20,257.62 H1011.20 M634.20,218.61 H1011.20 M634.20,179.60 H1011.20 M634.20,140.59 H1011.20 M634.20,101.57 H1011.20 M634.20,62.56 H1011.20" stroke="#747474" stroke-width="1.1" stroke-dasharray="1.15 4.87" fill="none"/>
<rect x="846.5" y="270.0" width="82.5" height="35.0" fill="#fff"/>
<path d="M695.64,335.65 v-3.8 M695.64,23.55 v3.8 M756.67,335.65 v-3.8 M756.67,23.55 v3.8 M817.71,335.65 v-3.8 M817.71,23.55 v3.8 M878.75,335.65 v-3.8 M878.75,23.55 v3.8 M939.79,335.65 v-3.8 M939.79,23.55 v3.8 M1000.82,335.65 v-3.8 M1000.82,23.55 v3.8 M634.60,296.64 h3.8 M1011.20,296.64 h-3.8 M634.60,257.62 h3.8 M1011.20,257.62 h-3.8 M634.60,218.61 h3.8 M1011.20,218.61 h-3.8 M634.60,179.60 h3.8 M1011.20,179.60 h-3.8 M634.60,140.59 h3.8 M1011.20,140.59 h-3.8 M634.60,101.57 h3.8 M1011.20,101.57 h-3.8 M634.60,62.56 h3.8 M1011.20,62.56 h-3.8" stroke="#404040" stroke-width="1" fill="none"/>
<rect x="634.60" y="23.55" width="376.60" height="312.10" fill="none" stroke="#404040" stroke-width="1.2"/>
<path clip-path="url(#cr)" d="M634.60,335.65 L635.80,334.33 L637.00,333.01 L638.20,331.69 L639.40,330.38 L640.59,329.06 L641.78,327.75 L642.98,326.44 L644.17,325.13 L645.36,323.82 L646.54,322.52 L647.73,321.21 L648.92,319.91 L650.10,318.61 L651.28,317.31 L652.46,316.01 L653.64,314.72 L654.82,313.42 L656.00,312.13 L657.17,310.84 L658.34,309.55 L659.52,308.26 L660.69,306.97 L661.86,305.69 L663.02,304.40 L664.19,303.12 L665.35,301.84 L666.52,300.56 L667.68,299.29 L668.84,298.01 L670.00,296.74 L671.15,295.46 L672.31,294.19 L673.46,292.93 L674.62,291.66 L675.77,290.39 L676.92,289.13 L678.07,287.87 L679.21,286.61 L680.36,285.35 L681.50,284.09 L682.64,282.83 L683.78,281.58 L684.92,280.33 L686.06,279.08 L687.20,277.83 L688.33,276.58 L689.47,275.33 L690.60,274.09 L691.73,272.85 L692.86,271.61 L693.98,270.37 L695.11,269.13 L696.24,267.89 L697.36,266.66 L698.48,265.43 L699.60,264.19 L700.72,262.97 L701.83,261.74 L702.95,260.51 L704.06,259.29 L705.18,258.06 L706.29,256.84 L707.40,255.62 L708.50,254.41 L709.61,253.19 L710.71,251.98 L711.82,250.76 L712.92,249.55 L714.02,248.34 L715.12,247.14 L716.21,245.93 L717.31,244.73 L718.40,243.52 L719.50,242.32 L720.59,241.12 L721.68,239.93 L722.76,238.73 L723.85,237.54 L724.93,236.35 L726.02,235.16 L727.10,233.97 L728.18,232.78 L729.26,231.59 L730.33,230.41 L731.41,229.23 L732.48,228.05 L733.56,226.87 L734.63,225.69 L735.70,224.52 L736.76,223.34 L737.83,222.17 L738.89,221.00 L739.96,219.84 L741.02,218.67 L742.08,217.50 L743.14,216.34 L744.19,215.18 L745.25,214.02 L746.30,212.86 L747.35,211.71 L748.40,210.55 L749.45,209.40 L750.50,208.25 L751.54,207.10 L752.59,205.95 L753.63,204.81 L754.67,203.67 L755.71,202.52 L756.75,201.38 L757.78,200.25 L758.82,199.11 L759.85,197.98 L760.88,196.84 L761.91,195.71 L762.94,194.58 L763.97,193.46 L764.99,192.33 L766.02,191.21 L767.04,190.08 L768.06,188.96 L769.08,187.85 L770.09,186.73 L771.11,185.62 L772.12,184.50 L773.13,183.39 L774.14,182.28 L775.15,181.18 L776.16,180.07 L777.17,178.97 L778.17,177.86 L779.17,176.76 L780.17,175.67 L781.17,174.57 L782.17,173.48 L783.16,172.38 L784.16,171.29 L785.15,170.21 L786.14,169.12 L787.13,168.03 L788.12,166.95 L789.10,165.87 L790.09,164.79 L791.07,163.72 L792.05,162.64 L793.03,161.57 L794.01,160.50 L794.99,159.43 L795.96,158.36 L796.93,157.29 L797.90,156.23 L798.87,155.17 L799.84,154.11 L800.81,153.05 L801.77,152.00 L802.73,150.95 L803.69,149.89 L804.65,148.85 L805.61,147.80 L806.57,146.75 L807.52,145.71 L808.47,144.67 L809.43,143.63 L810.37,142.59 L811.32,141.56 L812.27,140.53 L813.21,139.50 L814.15,138.47 L815.10,137.44 L816.03,136.42 L816.97,135.40 L817.91,134.38 L818.84,133.36 L819.77,132.35 L820.70,131.33 L821.63,130.32 L822.56,129.31 L823.49,128.31 L824.41,127.30 L825.33,126.30 L826.25,125.30 L827.17,124.31 L828.09,123.31 L829.00,122.32 L829.92,121.33 L830.83,120.34 L831.74,119.36 L832.65,118.38 L833.55,117.40 L834.46,116.42 L835.36,115.44 L836.26,114.47 L837.16,113.50 L838.06,112.53 L838.95,111.57 L839.85,110.61 L840.74,109.65 L841.63,108.69 L842.52,107.74 L843.41,106.78 L844.29,105.84 L845.18,104.89 L846.06,103.95 L846.94,103.01 L847.82,102.07 L848.69,101.13 L849.57,100.20 L850.44,99.27 L851.31,98.35 L852.18,97.42 L853.05,96.50 L853.91,95.59 L854.78,94.67 L855.64,93.76 L856.50,92.85 L857.36,91.95 L858.22,91.05 L859.07,90.15 L859.92,89.26 L860.78,88.37 L861.62,87.48 L862.47,86.59 L863.32,85.71 L864.16,84.84 L865.00,83.96 L865.84,83.09 L866.68,82.23 L867.52,81.36 L868.36,80.50 L869.19,79.65 L870.02,78.80 L870.85,77.95 L871.68,77.11 L872.50,76.27 L873.33,75.43 L874.15,74.60 L874.97,73.78 L875.79,72.95 L876.60,72.14 L877.42,71.32 L878.23,70.51 L879.04,69.71 L879.85,68.91 L880.66,68.11 L881.46,67.32 L882.26,66.54 L883.07,65.75 L883.87,64.98 L884.66,64.21 L885.46,63.44 L886.25,62.68 L887.04,61.93 L887.83,61.17 L888.62,60.43 L889.41,59.69 L890.19,58.96 L890.98,58.23 L891.76,57.51 L892.53,56.79 L893.31,56.08 L894.09,55.38 L894.86,54.68 L895.63,53.99 L896.40,53.30 L897.16,52.62 L897.93,51.95 L898.69,51.29 L899.45,50.63 L900.21,49.98 L900.97,49.33 L901.72,48.70 L902.48,48.06 L903.23,47.44 L903.98,46.83 L904.73,46.22 L905.47,45.62 L906.21,45.03 L906.95,44.44 L907.69,43.87 L908.43,43.30 L909.17,42.74 L909.90,42.19 L910.63,41.65 L911.36,41.12 L912.09,40.59 L912.81,40.08 L913.54,39.58 L914.26,39.08 L914.98,38.59 L915.69,38.12 L916.41,37.65 L917.12,37.20 L917.83,36.75 L918.54,36.31 L919.25,35.89 L919.95,35.48 L920.66,35.07 L921.36,34.68 L922.06,34.30 L922.75,33.93 L923.45,33.57 L924.14,33.23 L924.83,32.90 L925.52,32.58 L926.20,32.27 L926.89,31.97 L927.57,31.69 L928.25,31.42 L928.93,31.16 L929.60,30.92 L930.28,30.69 L930.95,30.47 L931.62,30.27 L932.28,30.08 L932.95,29.91 L933.61,29.75 L934.27,29.61 L934.93,29.48 L935.59,29.37 L936.24,29.27 L936.89,29.19 L937.54,29.13 L938.19,29.08 L938.84,29.05 L939.48,29.03 L940.12,29.04 L940.76,29.05 L941.40,29.09 L942.03,29.15 L942.67,29.22 L943.30,29.31 L943.92,29.42 L944.55,29.55 L945.17,29.69 L945.79,29.86 L946.41,30.04 L947.03,30.25 L947.64,30.48 L948.26,30.72 L948.87,30.99 L949.47,31.27 L950.08,31.58 L950.68,31.91 L951.28,32.26 L951.88,32.63 L952.48,33.03 L953.07,33.44 L953.66,33.88 L954.25,34.34 L954.84,34.83 L955.43,35.33 L956.01,35.87 L956.59,36.42 L957.17,37.00 L957.74,37.60 L958.31,38.23 L958.88,38.88 L959.45,39.56 L960.02,40.26 L960.58,40.99 L961.14,41.74 L961.70,42.52 L962.26,43.33 L962.81,44.16 L963.36,45.02 L963.91,45.90 L964.46,46.81 L965.00,47.75 L965.54,48.72 L966.08,49.71 L966.62,50.73 L967.15,51.78 L967.69,52.86 L968.22,53.97 L968.74,55.10 L969.27,56.27 L969.79,57.46 L970.31,58.68 L970.82,59.93 L971.34,61.21 L971.85,62.52 L972.36,63.86 L972.87,65.22 L973.37,66.62 L973.87,68.05 L974.37,69.51 L974.87,70.99 L975.36,72.51 L975.85,74.06 L976.34,75.64 L976.83,77.25 L977.31,78.89 L977.79,80.56 L978.27,82.26 L978.74,83.99 L979.21,85.75 L979.68,87.54 L980.15,89.36 L980.62,91.21 L981.08,93.09 L981.54,95.01 L981.99,96.95 L982.45,98.92 L982.90,100.93 L983.34,102.96 L983.79,105.02 L984.23,107.11 L984.67,109.23 L985.11,111.38 L985.54,113.56 L985.97,115.77 L986.40,118.01 L986.83,120.27 L987.25,122.57 L987.67,124.89 L988.08,127.24 L988.50,129.61 L988.91,132.01 L989.32,134.44 L989.72,136.90 L990.12,139.38 L990.52,141.88 L990.92,144.41 L991.31,146.97 L991.70,149.55 L992.09,152.15 L992.47,154.78 L992.85,157.42 L993.23,160.09 L993.60,162.78 L993.97,165.50 L994.34,168.23 L994.70,170.98 L995.07,173.75 L995.42,176.53 L995.78,179.34 L996.13,182.16 L996.48,184.99 L996.82,187.84 L997.17,190.71 L997.50,193.58 L997.84,196.47 L998.17,199.38 L998.50,202.29 L998.82,205.21 L999.14,208.14 L999.46,211.07 L999.78,214.01 L1000.09,216.96 L1000.40,219.91 L1000.70,222.87 L1001.00,225.82 L1001.30,228.78 L1001.59,231.73 L1001.88,234.69 L1002.16,237.64 L1002.44,240.58 L1002.72,243.52 L1003.00,246.45 L1003.27,249.37 L1003.53,252.29 L1003.79,255.19 L1004.05,258.07 L1004.31,260.94 L1004.56,263.80 L1004.80,266.63 L1005.04,269.45 L1005.28,272.24 L1005.51,275.01 L1005.74,277.75 L1005.97,280.47 L1006.19,283.16 L1006.40,285.81 L1006.61,288.43 L1006.82,291.02 L1007.02,293.56 L1007.22,296.07 L1007.41,298.54 L1007.60,300.96 L1007.78,303.33 L1007.95,305.65 L1008.13,307.92 L1008.29,310.13 L1008.45,312.29 L1008.61,314.38 L1008.76,316.41 L1008.90,318.37 L1009.04,320.26 L1009.17,322.08 L1009.30,323.81 L1009.41,325.46 L1009.52,327.02 L1009.63,328.49 L1009.73,329.86 L1009.81,331.11 L1009.89,332.26 L1009.97,333.27 L1010.03,334.15 L1010.08,334.86 L1010.11,335.39 L1010.13,335.65" fill="none" stroke="#000" stroke-width="3.1" stroke-linejoin="round"/>
<path clip-path="url(#cr)" d="M634.60,335.65 L635.78,334.59 L636.97,333.53 L638.15,332.48 L639.33,331.42 L640.51,330.37 L641.68,329.31 L642.86,328.26 L644.03,327.21 L645.20,326.16 L646.37,325.11 L647.54,324.07 L648.71,323.02 L649.88,321.98 L651.04,320.93 L652.21,319.89 L653.37,318.85 L654.53,317.81 L655.69,316.78 L656.85,315.74 L658.01,314.71 L659.16,313.67 L660.32,312.64 L661.47,311.61 L662.62,310.58 L663.77,309.55 L664.92,308.52 L666.06,307.50 L667.21,306.47 L668.35,305.45 L669.49,304.43 L670.63,303.41 L671.77,302.39 L672.91,301.37 L674.05,300.35 L675.18,299.34 L676.32,298.32 L677.45,297.31 L678.58,296.30 L679.71,295.29 L680.83,294.28 L681.96,293.27 L683.09,292.26 L684.21,291.26 L685.33,290.26 L686.45,289.25 L687.57,288.25 L688.69,287.25 L689.80,286.25 L690.92,285.26 L692.03,284.26 L693.14,283.27 L694.25,282.27 L695.36,281.28 L696.47,280.29 L697.57,279.30 L698.67,278.32 L699.78,277.33 L700.88,276.34 L701.98,275.36 L703.08,274.38 L704.17,273.40 L705.27,272.42 L706.36,271.44 L707.45,270.46 L708.54,269.49 L709.63,268.51 L710.72,267.54 L711.80,266.57 L712.89,265.60 L713.97,264.63 L715.05,263.66 L716.13,262.70 L717.21,261.73 L718.29,260.77 L719.36,259.81 L720.44,258.85 L721.51,257.89 L722.58,256.93 L723.65,255.97 L724.72,255.02 L725.78,254.06 L726.85,253.11 L727.91,252.16 L728.97,251.21 L730.03,250.26 L731.09,249.32 L732.15,248.37 L733.20,247.43 L734.26,246.48 L735.31,245.54 L736.36,244.60 L737.41,243.66 L738.46,242.73 L739.50,241.79 L740.55,240.86 L741.59,239.92 L742.63,238.99 L743.67,238.06 L744.71,237.13 L745.75,236.21 L746.78,235.28 L747.82,234.36 L748.85,233.43 L749.88,232.51 L750.91,231.59 L751.94,230.67 L752.96,229.76 L753.99,228.84 L755.01,227.93 L756.03,227.01 L757.05,226.10 L758.07,225.19 L759.09,224.28 L760.10,223.38 L761.12,222.47 L762.13,221.57 L763.14,220.66 L764.15,219.76 L765.15,218.86 L766.16,217.96 L767.16,217.07 L768.17,216.17 L769.17,215.28 L770.17,214.38 L771.16,213.49 L772.16,212.60 L773.15,211.72 L774.15,210.83 L775.14,209.95 L776.13,209.06 L777.12,208.18 L778.10,207.30 L779.09,206.42 L780.07,205.54 L781.05,204.67 L782.03,203.79 L783.01,202.92 L783.99,202.05 L784.96,201.18 L785.94,200.31 L786.91,199.45 L787.88,198.58 L788.85,197.72 L789.81,196.86 L790.78,196.00 L791.74,195.14 L792.70,194.28 L793.66,193.43 L794.62,192.57 L795.58,191.72 L796.54,190.87 L797.49,190.02 L798.44,189.17 L799.39,188.33 L800.34,187.48 L801.29,186.64 L802.24,185.80 L803.18,184.96 L804.12,184.13 L805.06,183.29 L806.00,182.46 L806.94,181.62 L807.87,180.79 L808.81,179.97 L809.74,179.14 L810.67,178.31 L811.60,177.49 L812.53,176.67 L813.45,175.85 L814.38,175.03 L815.30,174.22 L816.22,173.40 L817.14,172.59 L818.06,171.78 L818.97,170.97 L819.89,170.16 L820.80,169.36 L821.71,168.56 L822.62,167.75 L823.53,166.96 L824.43,166.16 L825.34,165.36 L826.24,164.57 L827.14,163.78 L828.04,162.99 L828.93,162.20 L829.83,161.42 L830.72,160.63 L831.61,159.85 L832.50,159.07 L833.39,158.30 L834.28,157.52 L835.16,156.75 L836.05,155.98 L836.93,155.21 L837.81,154.44 L838.69,153.68 L839.56,152.92 L840.44,152.16 L841.31,151.40 L842.18,150.65 L843.05,149.90 L843.92,149.15 L844.78,148.40 L845.65,147.65 L846.51,146.91 L847.37,146.17 L848.23,145.43 L849.09,144.70 L849.94,143.97 L850.79,143.24 L851.65,142.51 L852.50,141.78 L853.34,141.06 L854.19,140.34 L855.04,139.63 L855.88,138.91 L856.72,138.20 L857.56,137.49 L858.40,136.79 L859.23,136.09 L860.07,135.39 L860.90,134.69 L861.73,134.00 L862.56,133.31 L863.38,132.62 L864.21,131.94 L865.03,131.26 L865.85,130.58 L866.67,129.90 L867.49,129.23 L868.30,128.57 L869.12,127.90 L869.93,127.24 L870.74,126.58 L871.55,125.93 L872.36,125.28 L873.16,124.64 L873.96,123.99 L874.76,123.36 L875.56,122.72 L876.36,122.09 L877.16,121.46 L877.95,120.84 L878.74,120.22 L879.53,119.61 L880.32,119.00 L881.11,118.39 L881.89,117.79 L882.67,117.19 L883.45,116.60 L884.23,116.01 L885.01,115.43 L885.78,114.85 L886.56,114.28 L887.33,113.71 L888.10,113.15 L888.87,112.59 L889.63,112.03 L890.39,111.48 L891.16,110.94 L891.92,110.40 L892.67,109.87 L893.43,109.34 L894.18,108.82 L894.94,108.30 L895.69,107.79 L896.43,107.29 L897.18,106.79 L897.93,106.30 L898.67,105.81 L899.41,105.33 L900.15,104.86 L900.88,104.39 L901.62,103.93 L902.35,103.48 L903.08,103.03 L903.81,102.59 L904.54,102.16 L905.26,101.73 L905.98,101.32 L906.71,100.90 L907.42,100.50 L908.14,100.10 L908.86,99.71 L909.57,99.33 L910.28,98.96 L910.99,98.60 L911.70,98.24 L912.40,97.89 L913.10,97.55 L913.80,97.22 L914.50,96.90 L915.20,96.59 L915.90,96.28 L916.59,95.99 L917.28,95.70 L917.97,95.42 L918.65,95.16 L919.34,94.90 L920.02,94.65 L920.70,94.41 L921.38,94.19 L922.06,93.97 L922.73,93.76 L923.40,93.57 L924.07,93.38 L924.74,93.21 L925.41,93.04 L926.07,92.89 L926.73,92.75 L927.39,92.62 L928.05,92.51 L928.71,92.40 L929.36,92.31 L930.01,92.23 L930.66,92.16 L931.31,92.10 L931.95,92.06 L932.60,92.03 L933.24,92.02 L933.87,92.01 L934.51,92.02 L935.15,92.05 L935.78,92.08 L936.41,92.14 L937.04,92.20 L937.66,92.28 L938.28,92.38 L938.91,92.49 L939.52,92.61 L940.14,92.75 L940.76,92.91 L941.37,93.08 L941.98,93.27 L942.59,93.47 L943.19,93.69 L943.80,93.92 L944.40,94.17 L945.00,94.44 L945.59,94.73 L946.19,95.03 L946.78,95.35 L947.37,95.68 L947.96,96.04 L948.54,96.41 L949.13,96.80 L949.71,97.21 L950.29,97.64 L950.86,98.08 L951.44,98.54 L952.01,99.03 L952.58,99.53 L953.14,100.05 L953.71,100.59 L954.27,101.15 L954.83,101.73 L955.39,102.33 L955.95,102.95 L956.50,103.59 L957.05,104.25 L957.60,104.93 L958.14,105.63 L958.69,106.35 L959.23,107.10 L959.77,107.86 L960.30,108.65 L960.84,109.46 L961.37,110.29 L961.90,111.14 L962.43,112.01 L962.95,112.91 L963.47,113.82 L963.99,114.76 L964.51,115.72 L965.02,116.71 L965.53,117.71 L966.04,118.74 L966.55,119.80 L967.05,120.87 L967.56,121.97 L968.06,123.09 L968.55,124.23 L969.05,125.40 L969.54,126.59 L970.03,127.81 L970.51,129.04 L971.00,130.30 L971.48,131.59 L971.96,132.89 L972.43,134.22 L972.91,135.58 L973.38,136.95 L973.85,138.36 L974.31,139.78 L974.78,141.23 L975.24,142.70 L975.70,144.19 L976.15,145.71 L976.60,147.25 L977.05,148.81 L977.50,150.39 L977.94,152.00 L978.38,153.63 L978.82,155.29 L979.26,156.96 L979.69,158.66 L980.12,160.38 L980.55,162.12 L980.98,163.89 L981.40,165.67 L981.82,167.48 L982.23,169.31 L982.65,171.15 L983.06,173.02 L983.46,174.91 L983.87,176.82 L984.27,178.75 L984.67,180.70 L985.07,182.67 L985.46,184.65 L985.85,186.66 L986.24,188.68 L986.62,190.72 L987.00,192.78 L987.38,194.85 L987.75,196.95 L988.13,199.05 L988.49,201.18 L988.86,203.31 L989.22,205.46 L989.58,207.63 L989.94,209.81 L990.29,212.00 L990.64,214.21 L990.99,216.42 L991.33,218.65 L991.67,220.89 L992.01,223.13 L992.34,225.39 L992.67,227.66 L993.00,229.93 L993.32,232.21 L993.64,234.49 L993.96,236.78 L994.27,239.08 L994.58,241.38 L994.89,243.68 L995.19,245.99 L995.49,248.29 L995.79,250.60 L996.08,252.90 L996.37,255.21 L996.65,257.51 L996.93,259.80 L997.21,262.10 L997.49,264.38 L997.76,266.66 L998.02,268.93 L998.28,271.20 L998.54,273.45 L998.80,275.69 L999.05,277.92 L999.29,280.13 L999.54,282.33 L999.77,284.52 L1000.01,286.68 L1000.24,288.83 L1000.46,290.95 L1000.68,293.06 L1000.90,295.14 L1001.11,297.19 L1001.32,299.22 L1001.52,301.22 L1001.72,303.19 L1001.92,305.12 L1002.11,307.03 L1002.29,308.90 L1002.47,310.73 L1002.64,312.52 L1002.81,314.28 L1002.98,315.98 L1003.14,317.65 L1003.29,319.26 L1003.44,320.83 L1003.58,322.34 L1003.71,323.80 L1003.84,325.20 L1003.97,326.53 L1004.08,327.80 L1004.19,329.01 L1004.30,330.14 L1004.39,331.19 L1004.48,332.16 L1004.56,333.04 L1004.63,333.82 L1004.69,334.49 L1004.74,335.04 L1004.77,335.45 L1004.79,335.65" fill="none" stroke="#000" stroke-width="3.1" stroke-linejoin="round"/>
<path clip-path="url(#cr)" d="M634.60,335.65 L635.76,334.88 L636.91,334.11 L638.06,333.35 L639.21,332.58 L640.36,331.82 L641.51,331.05 L642.66,330.29 L643.81,329.53 L644.95,328.77 L646.09,328.01 L647.23,327.25 L648.38,326.49 L649.51,325.74 L650.65,324.98 L651.79,324.22 L652.92,323.47 L654.06,322.72 L655.19,321.97 L656.32,321.21 L657.45,320.46 L658.57,319.71 L659.70,318.97 L660.83,318.22 L661.95,317.47 L663.07,316.72 L664.19,315.98 L665.31,315.24 L666.43,314.49 L667.54,313.75 L668.66,313.01 L669.77,312.27 L670.88,311.53 L672.00,310.79 L673.10,310.06 L674.21,309.32 L675.32,308.58 L676.42,307.85 L677.53,307.12 L678.63,306.38 L679.73,305.65 L680.83,304.92 L681.93,304.19 L683.02,303.46 L684.12,302.74 L685.21,302.01 L686.30,301.28 L687.39,300.56 L688.48,299.83 L689.57,299.11 L690.66,298.39 L691.74,297.67 L692.82,296.95 L693.91,296.23 L694.99,295.51 L696.07,294.79 L697.14,294.08 L698.22,293.36 L699.29,292.65 L700.37,291.94 L701.44,291.22 L702.51,290.51 L703.58,289.80 L704.64,289.09 L705.71,288.38 L706.77,287.68 L707.84,286.97 L708.90,286.26 L709.96,285.56 L711.02,284.86 L712.07,284.15 L713.13,283.45 L714.18,282.75 L715.24,282.05 L716.29,281.35 L717.34,280.66 L718.38,279.96 L719.43,279.26 L720.48,278.57 L721.52,277.88 L722.56,277.18 L723.60,276.49 L724.64,275.80 L725.68,275.11 L726.72,274.42 L727.75,273.74 L728.78,273.05 L729.82,272.36 L730.85,271.68 L731.88,271.00 L732.90,270.31 L733.93,269.63 L734.95,268.95 L735.98,268.27 L737.00,267.59 L738.02,266.92 L739.03,266.24 L740.05,265.57 L741.07,264.89 L742.08,264.22 L743.09,263.55 L744.10,262.87 L745.11,262.20 L746.12,261.53 L747.13,260.87 L748.13,260.20 L749.13,259.53 L750.13,258.87 L751.13,258.20 L752.13,257.54 L753.13,256.88 L754.13,256.22 L755.12,255.56 L756.11,254.90 L757.10,254.24 L758.09,253.59 L759.08,252.93 L760.07,252.28 L761.05,251.62 L762.03,250.97 L763.01,250.32 L763.99,249.67 L764.97,249.02 L765.95,248.37 L766.92,247.73 L767.90,247.08 L768.87,246.43 L769.84,245.79 L770.81,245.15 L771.78,244.51 L772.74,243.87 L773.71,243.23 L774.67,242.59 L775.63,241.95 L776.59,241.32 L777.55,240.68 L778.51,240.05 L779.46,239.42 L780.42,238.78 L781.37,238.15 L782.32,237.53 L783.27,236.90 L784.21,236.27 L785.16,235.64 L786.10,235.02 L787.04,234.40 L787.99,233.77 L788.92,233.15 L789.86,232.53 L790.80,231.92 L791.73,231.30 L792.66,230.68 L793.60,230.07 L794.53,229.45 L795.45,228.84 L796.38,228.23 L797.30,227.62 L798.23,227.01 L799.15,226.40 L800.07,225.80 L800.99,225.19 L801.90,224.59 L802.82,223.98 L803.73,223.38 L804.64,222.78 L805.55,222.18 L806.46,221.59 L807.37,220.99 L808.27,220.39 L809.18,219.80 L810.08,219.21 L810.98,218.62 L811.88,218.03 L812.78,217.44 L813.67,216.85 L814.57,216.27 L815.46,215.68 L816.35,215.10 L817.24,214.52 L818.12,213.94 L819.01,213.36 L819.89,212.78 L820.78,212.21 L821.66,211.63 L822.53,211.06 L823.41,210.49 L824.29,209.92 L825.16,209.35 L826.03,208.78 L826.90,208.22 L827.77,207.66 L828.64,207.09 L829.51,206.53 L830.37,205.97 L831.23,205.42 L832.09,204.86 L832.95,204.31 L833.81,203.75 L834.66,203.20 L835.52,202.65 L836.37,202.11 L837.22,201.56 L838.07,201.02 L838.91,200.48 L839.76,199.94 L840.60,199.40 L841.44,198.86 L842.28,198.33 L843.12,197.79 L843.96,197.26 L844.79,196.73 L845.63,196.20 L846.46,195.68 L847.29,195.16 L848.11,194.63 L848.94,194.12 L849.77,193.60 L850.59,193.08 L851.41,192.57 L852.23,192.06 L853.05,191.55 L853.86,191.04 L854.68,190.54 L855.49,190.04 L856.30,189.54 L857.11,189.04 L857.91,188.54 L858.72,188.05 L859.52,187.56 L860.32,187.07 L861.12,186.58 L861.92,186.10 L862.72,185.62 L863.51,185.14 L864.30,184.67 L865.10,184.19 L865.88,183.72 L866.67,183.26 L867.46,182.79 L868.24,182.33 L869.02,181.87 L869.80,181.41 L870.58,180.96 L871.36,180.51 L872.13,180.06 L872.91,179.62 L873.68,179.18 L874.45,178.74 L875.21,178.30 L875.98,177.87 L876.74,177.44 L877.50,177.02 L878.26,176.60 L879.02,176.18 L879.78,175.76 L880.53,175.35 L881.29,174.95 L882.04,174.54 L882.79,174.14 L883.53,173.75 L884.28,173.35 L885.02,172.96 L885.76,172.58 L886.50,172.20 L887.24,171.82 L887.98,171.45 L888.71,171.08 L889.44,170.72 L890.17,170.36 L890.90,170.00 L891.63,169.65 L892.35,169.31 L893.08,168.96 L893.80,168.63 L894.52,168.30 L895.23,167.97 L895.95,167.65 L896.66,167.33 L897.37,167.02 L898.08,166.71 L898.79,166.41 L899.50,166.11 L900.20,165.82 L900.90,165.54 L901.60,165.26 L902.30,164.98 L903.00,164.72 L903.69,164.45 L904.38,164.20 L905.07,163.95 L905.76,163.70 L906.45,163.46 L907.13,163.23 L907.81,163.01 L908.49,162.79 L909.17,162.58 L909.85,162.37 L910.52,162.17 L911.19,161.98 L911.86,161.80 L912.53,161.62 L913.20,161.45 L913.86,161.29 L914.52,161.13 L915.18,160.99 L915.84,160.85 L916.50,160.71 L917.15,160.59 L917.81,160.47 L918.46,160.36 L919.10,160.26 L919.75,160.17 L920.39,160.09 L921.04,160.02 L921.68,159.95 L922.31,159.89 L922.95,159.85 L923.58,159.81 L924.21,159.78 L924.84,159.76 L925.47,159.75 L926.10,159.75 L926.72,159.76 L927.34,159.77 L927.96,159.80 L928.58,159.84 L929.19,159.89 L929.80,159.95 L930.42,160.02 L931.02,160.10 L931.63,160.19 L932.23,160.29 L932.84,160.41 L933.44,160.53 L934.03,160.67 L934.63,160.81 L935.22,160.97 L935.81,161.14 L936.40,161.32 L936.99,161.52 L937.58,161.72 L938.16,161.94 L938.74,162.17 L939.32,162.42 L939.89,162.67 L940.47,162.94 L941.04,163.22 L941.61,163.52 L942.17,163.82 L942.74,164.15 L943.30,164.48 L943.86,164.83 L944.42,165.19 L944.98,165.56 L945.53,165.95 L946.08,166.36 L946.63,166.77 L947.18,167.20 L947.72,167.65 L948.26,168.11 L948.80,168.58 L949.34,169.07 L949.88,169.58 L950.41,170.10 L950.94,170.63 L951.47,171.18 L951.99,171.75 L952.52,172.32 L953.04,172.92 L953.56,173.53 L954.07,174.16 L954.59,174.80 L955.10,175.46 L955.61,176.13 L956.12,176.82 L956.62,177.53 L957.12,178.25 L957.62,178.99 L958.12,179.74 L958.61,180.51 L959.11,181.30 L959.60,182.10 L960.08,182.92 L960.57,183.76 L961.05,184.61 L961.53,185.48 L962.01,186.36 L962.48,187.27 L962.96,188.18 L963.43,189.12 L963.89,190.07 L964.36,191.04 L964.82,192.03 L965.28,193.03 L965.74,194.05 L966.19,195.08 L966.64,196.13 L967.09,197.20 L967.54,198.29 L967.98,199.39 L968.43,200.50 L968.86,201.64 L969.30,202.79 L969.73,203.95 L970.17,205.13 L970.59,206.33 L971.02,207.55 L971.44,208.77 L971.86,210.02 L972.28,211.28 L972.69,212.56 L973.11,213.85 L973.52,215.15 L973.92,216.47 L974.33,217.81 L974.73,219.16 L975.12,220.52 L975.52,221.90 L975.91,223.29 L976.30,224.70 L976.69,226.12 L977.07,227.55 L977.45,229.00 L977.83,230.45 L978.20,231.92 L978.58,233.41 L978.95,234.90 L979.31,236.41 L979.67,237.92 L980.03,239.45 L980.39,240.99 L980.74,242.54 L981.10,244.09 L981.44,245.66 L981.79,247.23 L982.13,248.82 L982.47,250.41 L982.80,252.01 L983.14,253.62 L983.46,255.23 L983.79,256.85 L984.11,258.48 L984.43,260.11 L984.75,261.74 L985.06,263.38 L985.37,265.02 L985.67,266.67 L985.98,268.32 L986.28,269.97 L986.57,271.62 L986.86,273.27 L987.15,274.92 L987.44,276.57 L987.72,278.22 L988.00,279.87 L988.27,281.51 L988.54,283.15 L988.81,284.79 L989.07,286.42 L989.33,288.04 L989.59,289.66 L989.84,291.27 L990.09,292.87 L990.33,294.47 L990.57,296.05 L990.81,297.62 L991.04,299.18 L991.27,300.73 L991.50,302.26 L991.72,303.78 L991.93,305.28 L992.14,306.76 L992.35,308.23 L992.55,309.68 L992.75,311.10 L992.95,312.51 L993.14,313.89 L993.32,315.25 L993.50,316.58 L993.68,317.89 L993.85,319.17 L994.01,320.42 L994.17,321.64 L994.33,322.82 L994.47,323.97 L994.62,325.09 L994.76,326.17 L994.89,327.21 L995.02,328.20 L995.14,329.15 L995.25,330.06 L995.36,330.92 L995.46,331.72 L995.55,332.47 L995.64,333.16 L995.71,333.79 L995.78,334.35 L995.84,334.83 L995.89,335.22 L995.92,335.51 L995.94,335.65" fill="none" stroke="#000" stroke-width="3.1" stroke-linejoin="round"/>
<circle cx="939.73" cy="29.03" r="4.9" fill="none" stroke="#000" stroke-width="2.75"/>
<circle cx="933.71" cy="92.01" r="4.9" fill="none" stroke="#000" stroke-width="2.75"/>
<circle cx="925.84" cy="159.75" r="4.9" fill="none" stroke="#000" stroke-width="2.75"/>
<text transform="translate(634.60,356.5) scale(0.93,1)" font-size="20.4" text-anchor="middle">0</text>
<text transform="translate(695.64,356.5) scale(0.93,1)" font-size="20.4" text-anchor="middle">2</text>
<text transform="translate(756.67,356.5) scale(0.93,1)" font-size="20.4" text-anchor="middle">4</text>
<text transform="translate(817.71,356.5) scale(0.93,1)" font-size="20.4" text-anchor="middle">6</text>
<text transform="translate(878.75,356.5) scale(0.93,1)" font-size="20.4" text-anchor="middle">8</text>
<text transform="translate(939.79,356.5) scale(0.93,1)" font-size="20.4" text-anchor="middle">10</text>
<text transform="translate(1000.82,356.5) scale(0.93,1)" font-size="20.4" text-anchor="middle">12</text>
<text transform="translate(630.95,342.75) scale(0.93,1)" font-size="20.4" text-anchor="end">0</text>
<text transform="translate(630.95,303.74) scale(0.93,1)" font-size="20.4" text-anchor="end">10</text>
<text transform="translate(630.95,264.73) scale(0.93,1)" font-size="20.4" text-anchor="end">20</text>
<text transform="translate(630.95,225.71) scale(0.93,1)" font-size="20.4" text-anchor="end">30</text>
<text transform="translate(630.95,186.70) scale(0.93,1)" font-size="20.4" text-anchor="end">40</text>
<text transform="translate(630.95,147.69) scale(0.93,1)" font-size="20.4" text-anchor="end">50</text>
<text transform="translate(630.95,108.67) scale(0.93,1)" font-size="20.4" text-anchor="end">60</text>
<text transform="translate(630.95,69.66) scale(0.93,1)" font-size="20.4" text-anchor="end">70</text>
<text transform="translate(630.95,30.65) scale(0.93,1)" font-size="20.4" text-anchor="end">80</text>
<text x="710.30" y="378.60" font-size="24.30" textLength="231.00" lengthAdjust="spacingAndGlyphs">PV module Voltage [V]</text>
<text transform="translate(600.90,290.40) rotate(-90)" font-size="24.40" textLength="221.66" lengthAdjust="spacingAndGlyphs">PV module Power [W]</text>
<text x="743.53" y="426.60" font-size="24.40" textLength="28.74" lengthAdjust="spacingAndGlyphs">(b)</text>
<text x="780.80" y="426.60" font-size="24.40" textLength="104.51" lengthAdjust="spacingAndGlyphs">P-V curve.</text>
<text x="671.42" y="44.60" font-size="19.20" textLength="27.02" lengthAdjust="spacingAndGlyphs">S =</text>
<text x="702.71" y="44.60" font-size="19.20" textLength="79.49" lengthAdjust="spacingAndGlyphs">1000 W/m</text>
<text x="781.90" y="35.30" font-size="13.6">2</text>
<text x="672.82" y="68.90" font-size="19.20" textLength="26.12" lengthAdjust="spacingAndGlyphs">S =</text>
<text x="704.17" y="68.90" font-size="19.20" textLength="69.33" lengthAdjust="spacingAndGlyphs">800 W/m</text>
<text x="773.20" y="59.60" font-size="13.6">2</text>
<text x="674.02" y="94.20" font-size="19.20" textLength="26.82" lengthAdjust="spacingAndGlyphs">S =</text>
<text x="704.67" y="94.20" font-size="19.20" textLength="69.73" lengthAdjust="spacingAndGlyphs">600 W/m</text>
<text x="774.10" y="84.90" font-size="13.6">2</text>
<path d="M783.00,45.80 L843.30,83.43" stroke="#000" stroke-width="1.25" fill="none"/>
<path d="M851.61,88.62 L836.65,85.77 L843.30,83.43 L842.47,76.43 Z" fill="#000"/>
<path d="M776.50,69.70 L857.11,118.07" stroke="#000" stroke-width="1.25" fill="none"/>
<path d="M865.51,123.11 L850.51,120.52 L857.11,118.07 L856.17,111.09 Z" fill="#000"/>
<path d="M778.30,99.20 L874.08,158.55" stroke="#000" stroke-width="1.25" fill="none"/>
<path d="M882.41,163.72 L867.44,160.91 L874.08,158.55 L873.24,151.56 Z" fill="#000"/>
<ellipse cx="869.10" cy="291.00" rx="3.95" ry="4.25" fill="none" stroke="#000" stroke-width="3.2"/>
<text x="884.75" y="291.70" font-size="19.10" textLength="37.61" lengthAdjust="spacingAndGlyphs">MPP</text>
</svg></body></html>
